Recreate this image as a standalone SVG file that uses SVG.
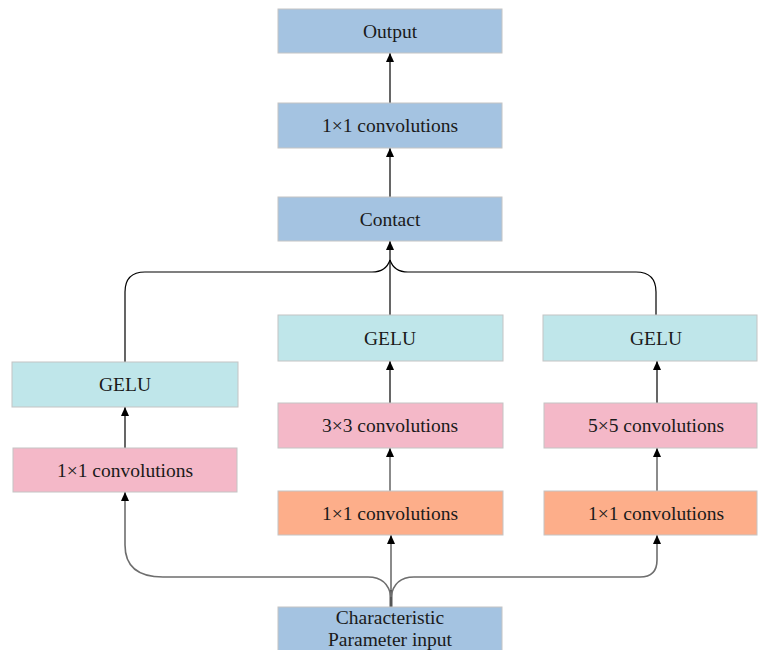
<svg xmlns="http://www.w3.org/2000/svg" width="758" height="650" viewBox="0 0 758 650">
<defs>
<marker id="ah" markerWidth="9" markerHeight="8" refX="9" refY="4" orient="auto" markerUnits="userSpaceOnUse" viewBox="0 0 9 8">
<path d="M0,0 L9,4 L0,8 Z" fill="#000"/>
</marker>
<style>
.box{stroke:#c4c4c4;stroke-width:1}
.blue{fill:#a4c3e1}
.cyan{fill:#bfe6ea}
.pink{fill:#f4b8c8}
.orange{fill:#fdae8a}
text{font-family:'Liberation Serif','DejaVu Serif',serif;font-size:19.5px;fill:#1a1a1a;text-anchor:middle}
.k{fill:none;stroke:#000;stroke-width:1.2}
.g{fill:none;stroke:#6e6e6e;stroke-width:1.6}
.gt{fill:none;stroke:#555;stroke-width:3}
</style>
</defs>
<rect width="758" height="650" fill="#fff"/>
<g id="connectors">
<path class="k" d="M390,103 V53" marker-end="url(#ah)"/>
<path class="k" d="M390,197 V148" marker-end="url(#ah)"/>
<path class="k" d="M390,315 V241" marker-end="url(#ah)"/>
<path class="k" d="M125,362 V292 Q125,272 145,272 H372 Q386,272 390,260"/>
<path class="k" d="M656,315 V292 Q656,272 636,272 H408 Q394,272 390,260"/>
<path class="k" d="M125,448 V407" marker-end="url(#ah)"/>
<path class="k" d="M390,403 V361" marker-end="url(#ah)"/>
<path class="k" d="M657,403 V361" marker-end="url(#ah)"/>
<path class="g" d="M390,491 V448" marker-end="url(#ah)"/>
<path class="g" d="M657,491 V448" marker-end="url(#ah)"/>
<path class="gt" d="M391,607 V590"/>
<path class="g" d="M391,590 V535" marker-end="url(#ah)"/>
<path class="g" d="M391,597 Q388,577 368,577 H163 Q125,577 125,545 V492" marker-end="url(#ah)"/>
<path class="g" d="M391,597 Q394,577 414,577 H640 Q657,577 657,560 V535" marker-end="url(#ah)"/>
</g>
<g id="output"><rect class="box blue" x="278" y="9" width="224" height="44"/><text x="390" y="38">Output</text></g>
<g id="conv_top"><rect class="box blue" x="278" y="103" width="224" height="45"/><text x="390" y="132">1×1 convolutions</text></g>
<g id="contact"><rect class="box blue" x="278" y="197" width="224" height="44"/><text x="390" y="226">Contact</text></g>
<g id="gelu_left"><rect class="box cyan" x="12" y="362" width="226" height="45"/><text x="125" y="391">GELU</text></g>
<g id="gelu_mid"><rect class="box cyan" x="278" y="315" width="225" height="46"/><text x="390" y="345">GELU</text></g>
<g id="gelu_right"><rect class="box cyan" x="543" y="315" width="214" height="46"/><text x="656" y="345">GELU</text></g>
<g id="conv1_left"><rect class="box pink" x="13" y="448" width="224" height="44"/><text x="125" y="477">1×1 convolutions</text></g>
<g id="conv3"><rect class="box pink" x="278" y="403" width="225" height="45"/><text x="390" y="432">3×3 convolutions</text></g>
<g id="conv5"><rect class="box pink" x="544" y="403" width="213" height="45"/><text x="656" y="432">5×5 convolutions</text></g>
<g id="conv1_mid"><rect class="box orange" x="278" y="491" width="225" height="44"/><text x="390" y="520">1×1 convolutions</text></g>
<g id="conv1_right"><rect class="box orange" x="544" y="491" width="213" height="44"/><text x="656" y="520">1×1 convolutions</text></g>
<g id="input"><rect class="box blue" x="278" y="607" width="224" height="48"/><text x="390" y="624">Characteristic</text><text x="390" y="646">Parameter input</text></g>
</svg>
